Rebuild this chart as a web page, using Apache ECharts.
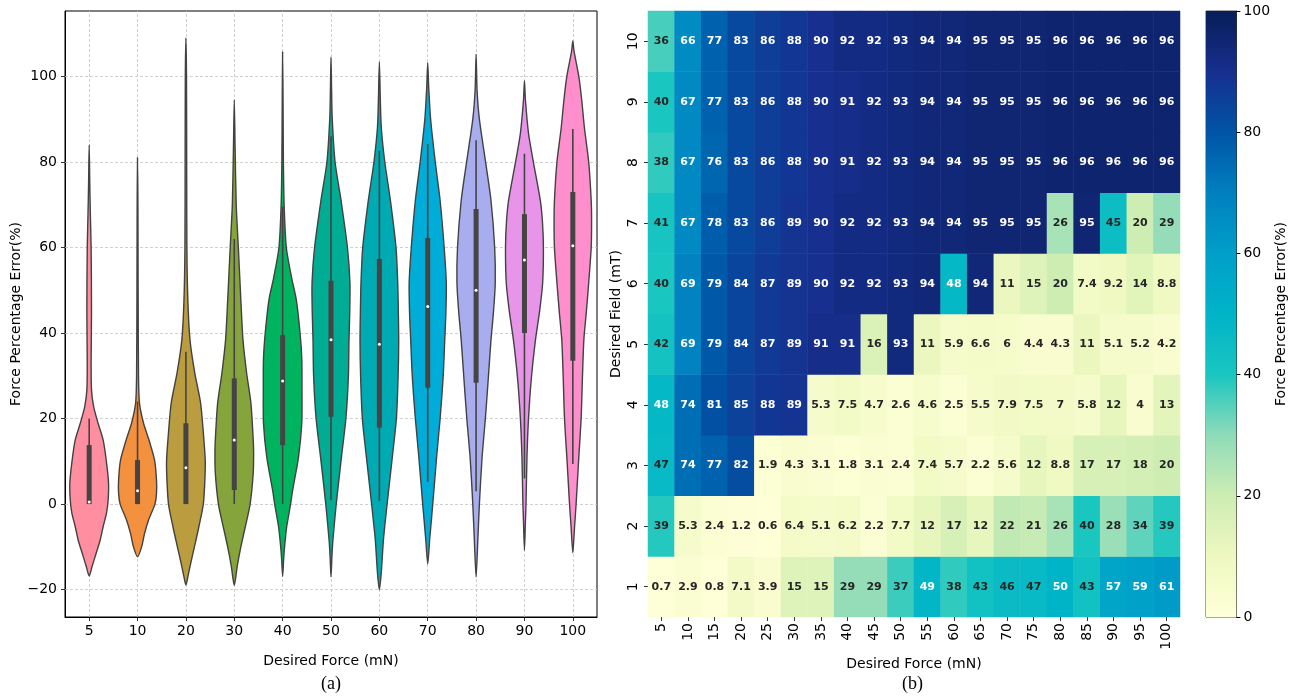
<!DOCTYPE html>
<html>
<head>
<meta charset="utf-8">
<script src="https://cdn.jsdelivr.net/npm/echarts@6/dist/echarts.min.js"></script>
<style>
  html, body { margin: 0; padding: 0; background: #fff; }
  #chart { width: 1289px; height: 696px; }
</style>
</head>
<body>
<div id="chart"></div>
<script>
// ---------- (a) violin data ----------
const forceCats = ['5', '10', '20', '30', '40', '50', '60', '70', '80', '90', '100'];
const violinColors = ['#ff8fa0', '#f4913f', '#bb9c3e', '#85a43b', '#00b35e', '#00ac93',
  '#00aab2', '#00acd8', '#a8adef', '#e895e9', '#ff8ecc'];

// density profiles: [error value, relative half width]
const violin5 = [[-16.8, 0], [-14.6, 0.15], [-11.5, 0.36], [-8.4, 0.57], [-5.3, 0.72], [-2, 0.9], [1, 0.98], [5, 1.0],
  [10.3, 0.88], [15, 0.72], [18.9, 0.46], [22.8, 0.23], [26.7, 0.12], [33, 0.1], [45, 0.12], [60, 0.1], [68, 0.06], [75, 0.03], [84, 0]];
const violin10 = [[-12.3, 0], [-10, 0.21], [-6.9, 0.36], [-3.7, 0.57], [0, 0.9], [2.5, 0.98], [5.6, 0.98], [10.3, 0.88],
  [15, 0.59], [18.9, 0.31], [23.6, 0.1], [30, 0.05], [50, 0.03], [70, 0.02], [81, 0]];
const violin20 = [[-18.9, 0], [-17, 0.1], [-14.6, 0.21], [-10, 0.44], [-5.3, 0.67], [0, 0.9], [5.6, 0.98], [10, 1.0], [15, 0.93],
  [23.6, 0.76], [30.6, 0.46], [38.4, 0.21], [47.7, 0.1], [60, 0.05], [80, 0.04], [100, 0.03], [109, 0]];
const violin30 = [[-19, 0], [-17, 0.08], [-14.6, 0.15], [-10, 0.34], [-5.3, 0.57], [0, 0.82], [7.2, 0.98], [12, 1.0], [15, 0.98],
  [23.6, 0.86], [30.6, 0.64], [38.4, 0.45], [47.7, 0.34], [60, 0.21], [70, 0.1], [84, 0.04], [94.5, 0]];
const violin40 = [[-16.9, 0], [-13, 0.05], [-10, 0.1], [-5.3, 0.21], [0, 0.41], [3.3, 0.52], [11, 0.82], [18.9, 0.99], [26.7, 1.0],
  [34, 0.99], [40, 0.9], [47.7, 0.71], [53, 0.46], [60, 0.19], [69.5, 0.08], [80, 0.04], [95, 0.02], [105.7, 0]];
const violin50 = [[-17, 0], [-12, 0.05], [-8.4, 0.1], [0, 0.27], [11, 0.54], [20, 0.77], [30, 0.9], [38.4, 0.93], [45, 0.97],
  [51.7, 0.98], [60, 0.85], [71, 0.52], [80, 0.21], [90.5, 0.06], [97, 0.03], [104.5, 0]];
const violin60 = [[-20, 0], [-16, 0.1], [-8.4, 0.21], [0, 0.4], [11, 0.67], [20, 0.88], [30, 0.97], [38.4, 1.0], [45, 0.98],
  [51.7, 0.95], [60, 0.86], [71, 0.57], [80, 0.28], [88, 0.1], [94.5, 0.05], [103.4, 0]];
const violin70 = [[-14, 0], [-8.4, 0.1], [0, 0.26], [11, 0.46], [20, 0.64], [30, 0.8], [38.4, 0.88], [45, 0.94], [51.7, 0.96],
  [60, 0.85], [71, 0.64], [80, 0.39], [90, 0.15], [97.6, 0.05], [103.2, 0]];
const violin80 = [[-17, 0], [-8.4, 0.09], [0, 0.17], [11, 0.31], [20, 0.48], [30, 0.64], [38.4, 0.77], [45, 0.9], [51.7, 0.99],
  [60, 0.96], [71, 0.77], [80, 0.49], [90, 0.17], [96.8, 0.05], [105.2, 0]];
const violin90 = [[-10.8, 0], [-4, 0.05], [0, 0.08], [11, 0.13], [20, 0.21], [29.6, 0.36], [38.4, 0.57], [45, 0.78], [51.7, 0.94],
  [60, 0.98], [66, 0.93], [71, 0.82], [80, 0.46], [86.7, 0.21], [94.5, 0.05], [99, 0]];
const violin100 = [[-11.4, 0], [-5.3, 0.09], [0, 0.17], [11, 0.31], [20, 0.43], [30, 0.5], [38.4, 0.57], [45, 0.7], [51.7, 0.82],
  [60, 0.95], [66, 0.97], [71, 0.95], [80, 0.82], [88, 0.6], [94.5, 0.46], [100, 0.31], [106, 0.06], [108.3, 0]];
const violinProfiles = [violin5, violin10, violin20, violin30, violin40, violin50, violin60, violin70, violin80, violin90, violin100];

const whiskerLow = [0, 0, 0, 0, 0, 0.9, 0.7, 5.2, 3.0, 6.0, 9.4];
const quart1 = [0, 0, 0, 3.3, 13.8, 20.4, 17.9, 27.2, 28.4, 40, 33.5];
const medians = [0.5, 3.1, 8.5, 15, 28.8, 38.4, 37.4, 46.2, 50, 57.1, 60.4];
const quart3 = [13.8, 10.3, 18.9, 29.4, 39.5, 52.2, 57.3, 62.2, 69, 67.8, 73];
const whiskerHigh = [20, 24, 35.6, 62, 69.5, 86, 82.6, 84.2, 85.1, 81.9, 87.7];
const errorTicks = [-20, 0, 20, 40, 60, 80, 100];

// ---------- (b) heatmap data ----------
const heatForces = ['5', '10', '15', '20', '25', '30', '35', '40', '45', '50', '55', '60', '65', '70', '75', '80', '85', '90', '95', '100'];
const fields = ['1', '2', '3', '4', '5', '6', '7', '8', '9', '10'];
const field1 = [0.7, 2.9, 0.8, 7.1, 3.9, 15, 15, 29, 29, 37, 49, 38, 43, 46, 47, 50, 43, 57, 59, 61];
const field2 = [39, 5.3, 2.4, 1.2, 0.6, 6.4, 5.1, 6.2, 2.2, 7.7, 12, 17, 12, 22, 21, 26, 40, 28, 34, 39];
const field3 = [47, 74, 77, 82, 1.9, 4.3, 3.1, 1.8, 3.1, 2.4, 7.4, 5.7, 2.2, 5.6, 12, 8.8, 17, 17, 18, 20];
const field4 = [48, 74, 81, 85, 88, 89, 5.3, 7.5, 4.7, 2.6, 4.6, 2.5, 5.5, 7.9, 7.5, 7, 5.8, 12, 4, 13];
const field5 = [42, 69, 79, 84, 87, 89, 91, 91, 16, 93, 11, 5.9, 6.6, 6, 4.4, 4.3, 11, 5.1, 5.2, 4.2];
const field6 = [40, 69, 79, 84, 87, 89, 90, 92, 92, 93, 94, 48, 94, 11, 15, 20, 7.4, 9.2, 14, 8.8];
const field7 = [41, 67, 78, 83, 86, 89, 90, 92, 92, 93, 94, 94, 95, 95, 95, 26, 95, 45, 20, 29];
const field8 = [38, 67, 76, 83, 86, 88, 90, 91, 92, 93, 94, 94, 95, 95, 95, 96, 96, 96, 96, 96];
const field9 = [40, 67, 77, 83, 86, 88, 90, 91, 92, 93, 94, 94, 95, 95, 95, 96, 96, 96, 96, 96];
const field10 = [36, 66, 77, 83, 86, 88, 90, 92, 92, 93, 94, 94, 95, 95, 95, 96, 96, 96, 96, 96];
const fieldRows = [field1, field2, field3, field4, field5, field6, field7, field8, field9, field10];

// colormap stops at 0,10,...,100
const cmapColors = ['#ffffd9', '#eef8bf', '#cdedb3', '#8fdbb9', '#19c6c0', '#00b4c8',
  '#009fc8', '#0080bf', '#0054a6', '#172f8e', '#081d58'];

const FONT = 'DejaVu Sans';
const chart = echarts.init(document.getElementById('chart'));

function minusFmt(v) {
  return v < 0 ? '\u2212' + Math.abs(v) : String(v);
}

function renderViolin(params, api) {
  const i = api.value(0);
  const band = api.size([1, 0])[0];
  const cx = api.coord([i, 0])[0];
  const prof = violinProfiles[i];
  const half = 0.4 * band;
  const pts = [];
  prof.forEach(p => pts.push([cx + p[1] * half, api.coord([i, p[0]])[1]]));
  for (let k = prof.length - 2; k >= 1; k--) {
    const p = prof[k];
    pts.push([cx - p[1] * half, api.coord([i, p[0]])[1]]);
  }
  const yLo = api.coord([i, api.value(1)])[1];
  const yQ1 = api.coord([i, api.value(2)])[1];
  const yMed = api.coord([i, api.value(3)])[1];
  const yQ3 = api.coord([i, api.value(4)])[1];
  const yHi = api.coord([i, api.value(5)])[1];
  return {
    type: 'group',
    children: [
      {
        type: 'polygon',
        shape: { points: pts, smooth: 0.25 },
        style: { fill: violinColors[i], stroke: '#424242', lineWidth: 1.4 }
      },
      {
        type: 'line',
        shape: { x1: cx, y1: yHi, x2: cx, y2: yLo },
        style: { stroke: '#444', lineWidth: 1.6 }
      },
      {
        type: 'rect',
        shape: { x: cx - 2.5, y: yQ3, width: 5, height: Math.max(yQ1 - yQ3, 0.5) },
        style: { fill: '#444' }
      },
      {
        type: 'circle',
        shape: { cx: cx, cy: yMed, r: 1.5 },
        style: { fill: '#fff' }
      }
    ]
  };
}

function renderColorbar(params, api) {
  const p0 = api.coord([0, 0]);
  const p1 = api.coord([1, 100]);
  const stops = cmapColors.map((c, k) => ({ offset: k / (cmapColors.length - 1), color: c }));
  return {
    type: 'rect',
    shape: { x: p0[0], y: p1[1], width: p1[0] - p0[0], height: p0[1] - p1[1] },
    style: { fill: new echarts.graphic.LinearGradient(0, 1, 0, 0, stops) }
  };
}

const heatData = [];
fieldRows.forEach((row, r) => {
  row.forEach((v, c) => {
    heatData.push({
      value: [c, r, v],
      label: { color: v >= 47.5 ? '#ffffff' : '#262626' }
    });
  });
});

const gridDash = { type: [3, 2], color: '#c4c4c4', width: 0.8 };
const tickStyle = { show: true, length: 4, lineStyle: { color: '#000', width: 0.8 } };

const option = {
  animation: false,
  textStyle: { fontFamily: FONT },
  grid: [
    { left: 65, top: 11, width: 532, height: 606, show: true, borderColor: '#000', borderWidth: 1, containLabel: false },
    { left: 648, top: 11, width: 532, height: 606, containLabel: false },
    { left: 1206, top: 11, width: 31, height: 606, show: true, borderColor: '#222', borderWidth: 0.8, containLabel: false }
  ],
  xAxis: [
    {
      type: 'category', gridIndex: 0, data: forceCats,
      axisLine: { show: true, onZero: false, lineStyle: { color: '#000', width: 1 } },
      axisTick: Object.assign({ alignWithLabel: true }, tickStyle),
      axisLabel: { fontSize: 14, color: '#000', margin: 7, fontFamily: FONT },
      splitLine: { show: false },
      name: 'Desired Force (mN)', nameLocation: 'middle', nameGap: 37,
      nameTextStyle: { fontSize: 14, color: '#000', fontFamily: FONT }
    },
    {
      type: 'category', gridIndex: 1, data: heatForces,
      axisLine: { show: false },
      axisTick: Object.assign({ alignWithLabel: true }, tickStyle),
      axisLabel: { fontSize: 14, color: '#000', rotate: 90, margin: 6, fontFamily: FONT },
      splitLine: { show: false },
      name: 'Desired Force (mN)', nameLocation: 'middle', nameGap: 37,
      nameTextStyle: { fontSize: 14, color: '#000', fontFamily: FONT }
    },
    { type: 'value', gridIndex: 2, min: 0, max: 1, show: false }
  ],
  yAxis: [
    {
      type: 'value', gridIndex: 0, min: -26.4, max: 115.3,
      axisLine: { show: true, onZero: false, lineStyle: { color: '#000', width: 1 } },
      axisTick: Object.assign({ customValues: errorTicks }, tickStyle),
      axisLabel: { customValues: errorTicks, fontSize: 14, color: '#000', margin: 8, formatter: minusFmt, fontFamily: FONT },
      splitLine: { show: false },
      name: 'Force Percentage Error(%)', nameLocation: 'middle', nameGap: 40, nameRotate: 90,
      nameTextStyle: { fontSize: 14, color: '#000', fontFamily: FONT }
    },
    {
      type: 'category', gridIndex: 1, data: fields,
      axisLine: { show: false },
      axisTick: Object.assign({ alignWithLabel: true }, tickStyle),
      axisLabel: { fontSize: 14, color: '#000', rotate: 90, margin: 8, fontFamily: FONT },
      splitLine: { show: false },
      name: 'Desired Field (mT)', nameLocation: 'middle', nameGap: 25, nameRotate: 90,
      nameTextStyle: { fontSize: 14, color: '#000', fontFamily: FONT }
    },
    {
      type: 'value', gridIndex: 2, min: 0, max: 100, interval: 20, position: 'right',
      axisLine: { show: true, onZero: false, lineStyle: { color: '#222', width: 0.8 } },
      axisTick: { show: true, inside: false, length: 4, lineStyle: { color: '#000', width: 1 } },
      axisLabel: { fontSize: 14, color: '#000', margin: 7, fontFamily: FONT },
      splitLine: { show: false },
      name: 'Force Percentage Error(%)', nameLocation: 'middle', nameGap: 37, nameRotate: 90,
      nameTextStyle: { fontSize: 14, color: '#000', fontFamily: FONT }
    }
  ],
  visualMap: {
    type: 'continuous', show: false, min: 0, max: 100, dimension: 2, seriesIndex: 2,
    inRange: { color: cmapColors }
  },
  series: [
    {
      // dashed grid of panel (a)
      type: 'line', xAxisIndex: 0, yAxisIndex: 0, data: [], silent: true, z: 1,
      markLine: {
        silent: true, z: 1, symbol: ['none', 'none'], label: { show: false },
        lineStyle: gridDash, emphasis: { disabled: true },
        data: errorTicks.map(v => ({ yAxis: v })).concat(forceCats.map(c => ({ xAxis: c })))
      }
    },
    {
      type: 'custom', xAxisIndex: 0, yAxisIndex: 0, z: 10,
      renderItem: renderViolin,
      encode: { x: 0, y: [1, 2, 3, 4, 5] },
      data: forceCats.map((c, i) => [i, whiskerLow[i], quart1[i], medians[i], quart3[i], whiskerHigh[i]])
    },
    {
      type: 'heatmap', xAxisIndex: 1, yAxisIndex: 1,
      data: heatData,
      label: {
        show: true, fontFamily: FONT, fontWeight: 'bold', fontSize: 11,
        formatter: p => String(p.value[2])
      },
      emphasis: { disabled: true }
    },
    {
      type: 'custom', xAxisIndex: 2, yAxisIndex: 2,
      renderItem: renderColorbar,
      data: [[0, 0]]
    }
  ],
  graphic: [
    { type: 'text', left: 321, top: 675, style: { text: '(a)', font: '18px "Liberation Serif"', fill: '#000' } },
    { type: 'text', left: 902, top: 675, style: { text: '(b)', font: '18px "Liberation Serif"', fill: '#000' } },
    { type: 'rect', left: 1167, top: 603, shape: { width: 8, height: 8, r: 1 }, style: { fill: '#dfeaf2', stroke: '#b8cfdd', lineWidth: 1 } }
  ]
};

chart.setOption(option);
</script>
</body>
</html>
